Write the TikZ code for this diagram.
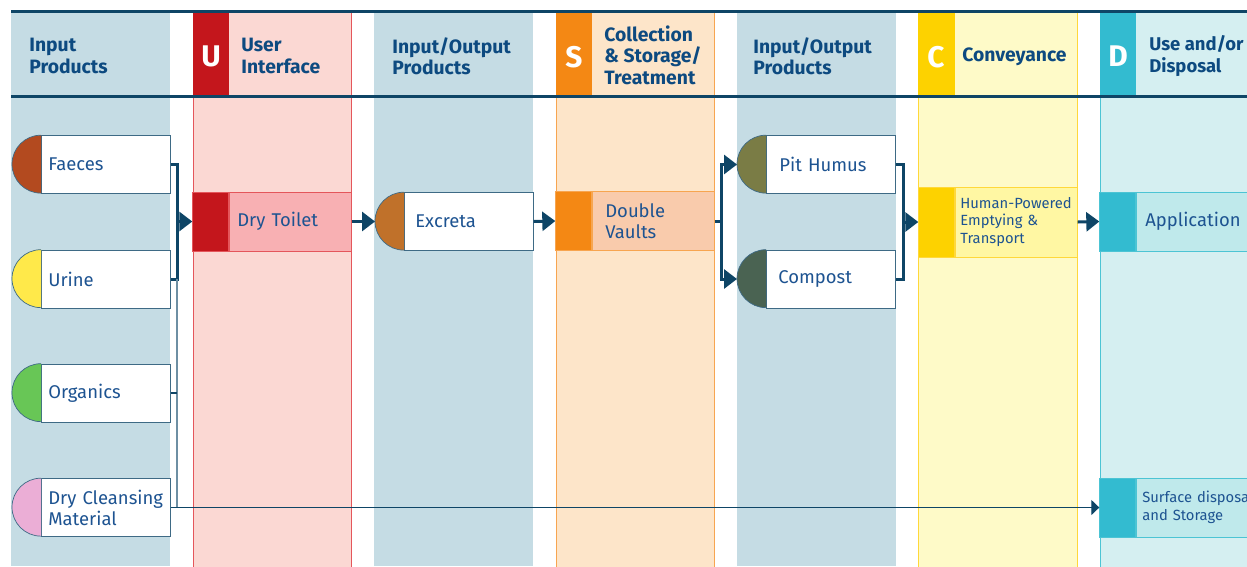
\documentclass[tikz,border=0pt]{standalone}
\usepackage{fontspec}
\setmainfont{Fira Sans}
\usepackage{tikz}
\usetikzlibrary{arrows.meta,positioning}

\definecolor{lanegrey}{HTML}{C5DCE4}
\definecolor{ink}{HTML}{0E4566}
\definecolor{txt}{HTML}{1D5391}
\definecolor{headcol}{HTML}{0D4A80}
\definecolor{uRed}{HTML}{C4161C}
\definecolor{uPink}{HTML}{FBD8D3}
\definecolor{uLine}{HTML}{E4565B}
\definecolor{uBox}{HTML}{F8B0B3}
\definecolor{sOrange}{HTML}{F48814}
\definecolor{sPale}{HTML}{FDE5C9}
\definecolor{sLine}{HTML}{F7A550}
\definecolor{sBox}{HTML}{F9CBAC}
\definecolor{cYellow}{HTML}{FDD200}
\definecolor{cPale}{HTML}{FEFAC8}
\definecolor{cLine}{HTML}{FFD83A}
\definecolor{cBox}{HTML}{FFF7A3}
\definecolor{dTeal}{HTML}{33BBD0}
\definecolor{dPale}{HTML}{D5EFF1}
\definecolor{dLine}{HTML}{4CC4D4}
\definecolor{dBox}{HTML}{BFE9EB}
\definecolor{faecesC}{HTML}{B34A1F}
\definecolor{urineC}{HTML}{FFE94A}
\definecolor{organicsC}{HTML}{68C656}
\definecolor{dryC}{HTML}{EBAED6}
\definecolor{excretaC}{HTML}{C0712A}
\definecolor{humusC}{HTML}{7A7C45}
\definecolor{compostC}{HTML}{4A6352}

\tikzset{
  headtxt/.style={anchor=west, align=left, inner sep=0pt, text=headcol,
    font=\bfseries\fontsize{11}{12.2}\selectfont},
  letter/.style={text=white, inner sep=0pt, font=\bfseries\fontsize{17}{17}\selectfont},
  prod/.style={draw=ink!80, fill=white, anchor=west, minimum height=1.16cm,
    align=left, text=txt, font=\fontsize{10.5}{12}\selectfont},
  tech/.style={anchor=west, minimum height=1.18cm, inner xsep=0.16cm, align=left,
    text=txt, font=\fontsize{10.5}{12}\selectfont},
  tab/.style={minimum width=0.72cm, inner sep=0pt},
  link/.style={draw=ink, line width=0.06cm},
  flow/.style={link, -{Triangle[length=0.26cm,width=0.38cm]}},
  feed/.style={draw=ink, line width=0.024cm},
  feedv/.style={draw=ink!60, line width=0.04cm},
}

\begin{document}
\begin{tikzpicture}[x=0.02cm,y=-0.02cm]
  \useasboundingbox (0,0) rectangle (1247,566);
  % lanes
  \fill[lanegrey] (11,11) rectangle (170,566);
  \filldraw[fill=uPink, draw=uLine] (193,11) rectangle (351,570);
  \fill[lanegrey] (374,11) rectangle (533,566);
  \filldraw[fill=sPale, draw=sLine] (556,11) rectangle (714,570);
  \fill[lanegrey] (737,11) rectangle (896,566);
  \filldraw[fill=cPale, draw=cLine] (918,11) rectangle (1077,570);
  \filldraw[fill=dPale, draw=dLine] (1100,11) rectangle (1260,570);
  % header
  \fill[uRed] (193,11) rectangle (229,96);
  \fill[sOrange] (556,11) rectangle (592,96);
  \fill[cYellow] (918,11) rectangle (955,96);
  \fill[dTeal] (1100,11) rectangle (1136,96);
  \draw[ink, line width=0.06cm] (11,11) -- (1247,11);
  \draw[ink, line width=0.06cm] (11,96) -- (1247,96);
  \node[letter] (lU) at (211,56) {U};
  \node[letter] (lS) at (574,57) {S};
  \node[letter] (lC) at (936,57) {C};
  \node[letter] (lD) at (1118,56) {D};
  \node[headtxt] (hIn) at (29,56) {Input\\Products};
  \node[headtxt] (hU) at (241,56) {User\\Interface};
  \node[headtxt] (hIO1) at (392,56) {Input/Output\\Products};
  \node[headtxt] (hS) at (604,55) {Collection\\\& Storage/\\Treatment};
  \node[headtxt] (hIO2) at (753,56) {Input/Output\\Products};
  \node[headtxt] (hC) at (962,57) {Conveyance};
  \node[headtxt, font=\bfseries\fontsize{10.5}{12.2}\selectfont] (hD) at (1149,56) {Use and/or\\Disposal};

  % products
  \foreach \nm/\xx/\yy/\cc/\sx/\tx in {
      faeces/41/164.5/faecesC/0.14/Faeces,
      urine/41/279/urineC/0.14/Urine,
      organics/41/393/organicsC/0.14/Organics,
      drycm/41/507.5/dryC/0.14/{Dry Cleansing\\Material},
      excreta/404/221.5/excretaC/0.22/Excreta,
      pithumus/766/164.5/humusC/0.26/Pit Humus,
      compost/766/279/compostC/0.24/Compost} {
    \node[prod, inner xsep=\sx cm, text width=2.58cm-2*\sx cm] (\nm) at (\xx,\yy) {\tx};
    \fill[\cc] (\nm.north west) arc[start angle=90,end angle=270,radius=0.58cm] -- cycle;
    \draw[ink!80] (\nm.north west) arc[start angle=90,end angle=270,radius=0.58cm];
    \coordinate (\nm-cap) at ([xshift=-0.58cm]\nm.west);
  }

  % technologies
  \node[tech, fill=uBox, draw=uLine, text width=2.12cm] (toilet) at (229,221.5) {Dry Toilet};
  \node[tab, fill=uRed, draw=uLine, minimum height=1.18cm, left=0pt of toilet] (toiletTab) {};
  \node[tech, fill=sBox, draw=sLine, inner xsep=0.26cm, text width=1.92cm] (vaults) at (592,221) {Double\\Vaults};
  \node[tab, fill=sOrange, draw=sLine, minimum height=1.18cm, left=0pt of vaults] (vaultsTab) {};
  \node[tech, fill=cBox, draw=cLine, minimum height=1.4cm, inner xsep=0.1cm, text width=2.24cm,
    font=\fontsize{8.4}{10}\selectfont] (transport) at (955,222) {Human-Powered\\Emptying \&\\Transport};
  \node[tab, fill=cYellow, draw=cLine, minimum height=1.4cm, left=0pt of transport] (transportTab) {};
  \node[tech, fill=dBox, draw=dLine, inner xsep=0.18cm, text width=2.12cm] (application) at (1136,221.5) {Application};
  \node[tab, fill=dTeal, draw=dLine, minimum height=1.18cm, left=0pt of application] (applicationTab) {};
  \node[tech, fill=dBox, draw=dLine, inner xsep=0.12cm, text width=2.4cm,
    font=\fontsize{8.4}{10}\selectfont] (surface) at (1136,507.5) {Surface disposal\\and Storage};
  \node[tab, fill=dTeal, draw=dLine, minimum height=1.18cm, left=0pt of surface] (surfaceTab) {};

  % connectors
  \coordinate (j1) at (177,221.5);
  \draw[link] (faeces.east) -| (j1) |- (urine.east);
  \draw[flow] (j1) -- (toiletTab.west);
  \draw[feedv] (j1 |- urine.east) -- (j1 |- drycm.east);
  \draw[feed] (organics.east) -- (organics.east -| j1);
  \draw[feed, -{Triangle[length=0.16cm,width=0.3cm]}] (drycm.east) -- (surfaceTab.west);
  \draw[flow] (toilet.east) -- (excreta-cap);
  \draw[flow] (excreta.east) -- (vaultsTab.west);
  \coordinate (j3) at (721,221);
  \draw[link] (vaults.east) -- (j3);
  \draw[flow] (j3) |- (pithumus-cap);
  \draw[flow] (j3) |- (compost-cap);
  \coordinate (j4) at (903,222);
  \draw[link] (pithumus.east) -| (j4) |- (compost.east);
  \draw[flow] (j4) -- (transportTab.west);
  \draw[flow] (transport.east) -- (applicationTab.west);
\end{tikzpicture}
\end{document}
